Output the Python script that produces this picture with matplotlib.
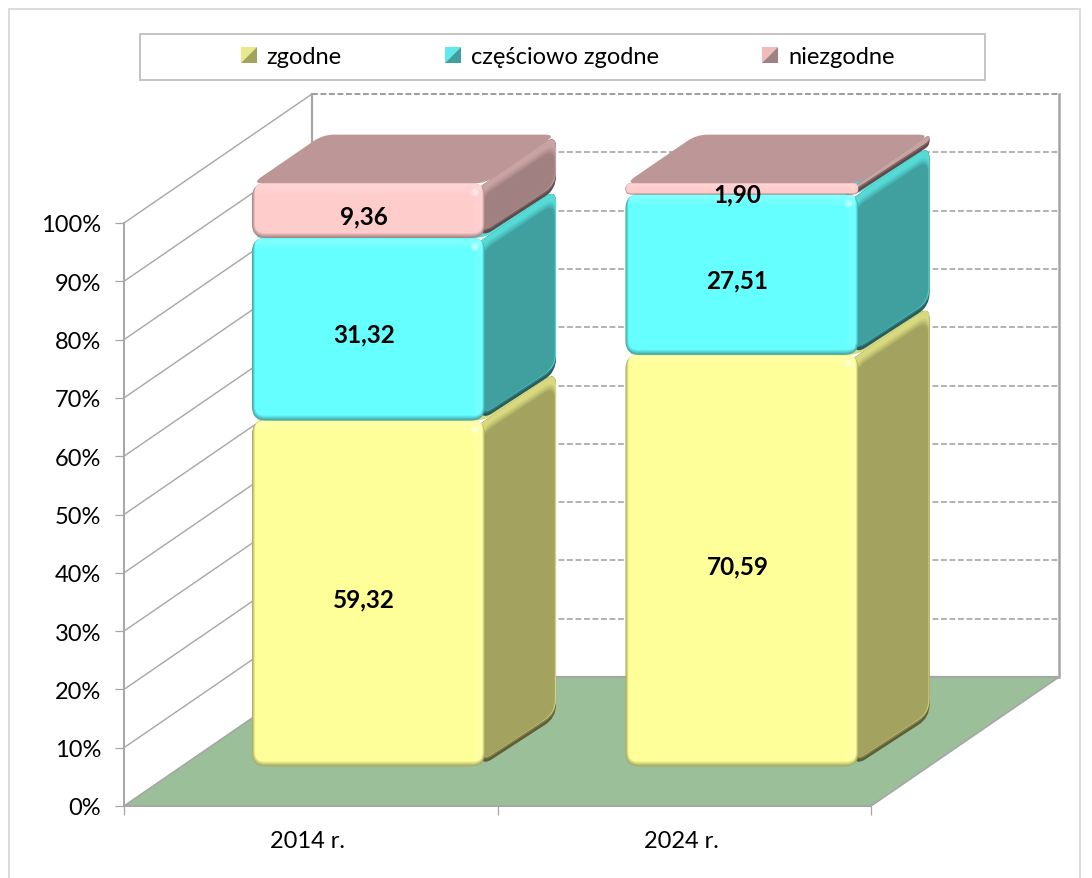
import numpy as np
import matplotlib
matplotlib.use("Agg")
import matplotlib.pyplot as plt
from matplotlib.patches import PathPatch, Polygon, Rectangle, Ellipse
from matplotlib.path import Path
from matplotlib.colors import to_rgb
from matplotlib.legend_handler import HandlerBase
from matplotlib.transforms import Affine2D

categories = ["2014 r.", "2024 r."]
series_names = ["zgodne", "częściowo zgodne", "niezgodne"]
zgodne = [59.32, 70.59]
czesciowo = [31.32, 27.51]
niezgodne = [9.36, 1.90]
y_ticks = [0, 10, 20, 30, 40, 50, 60, 70, 80, 90, 100]

front_cols = ["#FFFF99", "#66FFFF", "#FFCCCC"]
side_cols = ["#A3A35F", "#40A0A0", "#A08080"]
top_cols = ["#D8D87E", "#55DAD6", "#BD9797"]
bevel_cols = ["#D8D87E", "#55DAD6", "#C9A2A2"]
GRID = "#A6A6A6"
FLOOR = "#9BBF99"
FONT = "Lato"

W, H = 1092, 879
fig = plt.figure(figsize=(W / 100, H / 100), dpi=100, facecolor="white")
plt.rcParams["font.family"] = [FONT, "DejaVu Sans"]

PX0, PX1, PY_B, PY_T = 124, 871, 807, 224
ax = fig.add_axes([PX0 / W, 1 - PY_B / H, (PX1 - PX0) / W, (PY_B - PY_T) / H])
ax.set_xlim(0, 2)
ax.set_ylim(0, 100)
ax.patch.set_alpha(0)
SX = (PX1 - PX0) / 2
SY = (PY_B - PY_T) / 100

# oblique depth (pixels for a full floor depth)
DX_PX, DY_PX = 188, 129
DX, DY = DX_PX / SX, DY_PX / SY
D_START, D_END = 0.307, 0.685
BAR_W = 233 / SX


def mix(c1, c2, t):
    a, b = np.array(to_rgb(c1)), np.array(to_rgb(c2))
    return tuple(a * (1 - t) + b * t)


def rpoly(corners, r, **kw):
    """Rounded polygon from data-space corners; r is the corner cut in pixels."""
    p = np.array(corners, float) * [SX, SY]
    n = len(p)
    verts, codes = [], []
    for i in range(n):
        a, b, c = p[i - 1], p[i], p[(i + 1) % n]
        la, lc = np.linalg.norm(a - b), np.linalg.norm(c - b)
        ra = min(r, la * 0.48)
        rc = min(r, lc * 0.48)
        s = b + (a - b) / max(la, 1e-6) * ra
        e = b + (c - b) / max(lc, 1e-6) * rc
        verts += [s, b, e]
        codes += [Path.LINETO if i else Path.MOVETO, Path.CURVE3, Path.CURVE3]
    verts.append(verts[0])
    codes.append(Path.CLOSEPOLY)
    verts = np.array(verts) / [SX, SY]
    patch = PathPatch(Path(verts, codes), lw=0, clip_on=False, **kw)
    ax.add_patch(patch)
    return patch


def wall(x, y, d):
    return x + d * DX, y + d * DY


# ---- walls & floor ----
floor = [wall(0, 0, 0), wall(2, 0, 0), wall(2, 0, 1), wall(0, 0, 1)]
ax.add_patch(Polygon(floor, closed=True, fc=FLOOR, ec=GRID, lw=1.2, clip_on=False, zorder=1))
for v in y_ticks[1:]:
    ax.plot(*zip(wall(0, v, 0), wall(0, v, 1)), color=GRID, lw=1.0, clip_on=False, zorder=1)
    ax.plot(*zip(wall(0, v, 1), wall(2, v, 1)), color=GRID if v < 100 else "#8C8C8C",
            lw=1.2, ls=(0, (3.5, 1.6)), clip_on=False, zorder=1)
ax.plot(*zip(wall(0, 0, 1), wall(0, 100, 1)), color=GRID, lw=1.6, clip_on=False, zorder=1)
ax.plot(*zip(wall(2, 0, 1), wall(2, 100, 1)), color=GRID, lw=1.8, clip_on=False, zorder=1)
ax.plot(*zip(wall(0, 0, 1), wall(2, 0, 1)), color=GRID, lw=1.6, clip_on=False, zorder=1)

# ---- bars ----
z = 3


def segment(xc, y0, y1, k):
    global z
    px = 1 / SX
    py = 1 / SY
    xl, xr = xc - BAR_W / 2 + D_START * DX, xc + BAR_W / 2 + D_START * DX
    b, t = y0 + D_START * DY, y1 + D_START * DY
    ddx, ddy = (D_END - D_START) * DX, (D_END - D_START) * DY
    hpx = (t - b) * SY
    r = min(14, hpx * 0.5)
    rs = min(13, hpx * 0.45)
    # hidden start of the upper side edge, continued under the front face
    lead = 16 * px
    lead_y = lead * ddy / ddx
    upper_l = (xr - lead, t - lead_y)
    # side face
    rpoly([(xr - 4 * px, b), (xr + ddx, b + ddy), (xr + ddx, t + ddy), upper_l], rs,
          fc=mix(side_cols[k], "black", 0.42), zorder=z)
    rpoly([(xr - 4 * px, b + 3 * py), (xr + ddx, b + ddy + 3 * py), (xr + ddx, t + ddy), upper_l], rs,
          fc=mix(side_cols[k], "black", 0.2), zorder=z)
    rpoly([(xr - 4 * px, b + 5 * py), (xr + ddx, b + ddy + 5 * py), (xr + ddx, t + ddy), upper_l], rs,
          fc=bevel_cols[k], zorder=z)
    if hpx > 20:
        steps = [(8, 0.2), (10, 0.45), (12, 0.7), (14, 1.0)]
        for drop, f in steps:
            rpoly([(xr - 4 * px, b + 5 * py), (xr + ddx - (0.5 + f) * px, b + ddy + 5 * py),
                   (xr + ddx - (0.5 + f) * px, t + ddy - drop * py), (xr - 4 * px, t - drop * py)], rs,
                  fc=mix(bevel_cols[k], side_cols[k], f), zorder=z)
    # top face
    rpoly([(xl, t), (xr, t), (xr + ddx, t + ddy), (xl + ddx, t + ddy)], 11,
          fc=top_cols[k], zorder=z)
    # front face: edge shading
    e = mix(front_cols[k], side_cols[k], 0.95)
    rpoly([(xl, b), (xr, b), (xr, t), (xl, t)], r, fc=e, zorder=z)
    bev = min(5.0, hpx * 0.14)
    n = 5
    for i in range(1, n + 1):
        f = i / n
        d = bev * f
        rpoly([(xl + d * 0.6 * px, b + d * py), (xr - d * 0.5 * px, b + d * py),
               (xr - d * 0.5 * px, t), (xl + d * 0.6 * px, t)],
              max(r - d, 2), fc=mix(e, front_cols[k], f), zorder=z)
    # highlights along the top and right edges
    hh = min(10, hpx * 0.3)
    for i in range(1, 5):
        dd = hh * i / 4
        ax.add_patch(Rectangle((xl + 3 * px, t - (1 + dd) * py), BAR_W - 6 * px, dd * py, fc="white",
                               alpha=0.05, lw=0, clip_on=False, zorder=z))
        w = 9 * i / 4
        ax.add_patch(Rectangle((xr - (3 + w) * px, b + 5 * py), w * px, max(hpx - 7, 1) * py, fc="white",
                               alpha=0.03, lw=0, clip_on=False, zorder=z))
    if hpx > 20:
        for sz in (8, 5):
            ax.add_patch(Ellipse((xr - 10 * px, t - 9 * py), sz * px, sz * py, fc="white", alpha=0.3, lw=0,
                                 clip_on=False, zorder=z))
    z += 1


stack = [zgodne, czesciowo, niezgodne]
for c in range(len(categories)):
    base = 0.0
    for k, s in enumerate(stack):
        segment(c + 0.5, base, base + s[c], k)
        base += s[c]
z_labels = z + 1
for c in range(len(categories)):
    base = 0.0
    for s in stack:
        xc = c + 0.5 + D_START * DX
        yc = base + s[c] / 2 + D_START * DY
        ax.annotate(f"{s[c]:.2f}".replace(".", ","), (xc, yc), xytext=(-4.5, -5),
                    textcoords="offset pixels", ha="center", va="center", fontsize=17.5,
                    fontweight="bold", family=FONT, color="black", annotation_clip=False, zorder=z_labels)
        base += s[c]

# ---- axes ----
for sp in ["top", "right"]:
    ax.spines[sp].set_visible(False)
for sp in ["left", "bottom"]:
    ax.spines[sp].set_color(GRID)
    ax.spines[sp].set_linewidth(1.4)
    ax.spines[sp].set_zorder(2)
ax.set_yticks(y_ticks)
ax.set_yticklabels([f"{v}%" for v in y_ticks], fontsize=17, family=FONT, color="black")
ax.set_xticks([0, 1, 2])
ax.set_xticklabels([])
ax.set_xticks([0.5, 1.5], minor=True)
ax.set_xticklabels(categories, minor=True, fontsize=17, family=FONT, color="black")
ax.tick_params(axis="y", length=6.5, width=0.9, color=GRID, pad=10)
ax.tick_params(axis="x", which="major", length=6.5, width=0.9, color=GRID)
ax.tick_params(axis="x", which="minor", length=0, pad=17)
for lab in ax.get_xticklabels(minor=True):
    lab.set_transform(lab.get_transform() + Affine2D().translate(-3, 0))


# ---- chrome: outer border and legend frame ----
def frect(x0, y0, x1, y1, **kw):
    fig.add_artist(Rectangle((x0 / W, 1 - y1 / H), (x1 - x0) / W, (y1 - y0) / H,
                             transform=fig.transFigure, fill=False, **kw))


frect(9, 10, 1080, 900, ec="#D9D9D9", lw=1.3, clip_on=True)
frect(140, 34.5, 985, 80.5, ec="#BFBFBF", lw=1.3)


class HandlerDiag(HandlerBase):
    def __init__(self, light, dark):
        super().__init__()
        self.light, self.dark = light, dark

    def create_artists(self, legend, orig, xd, yd, w, h, fs, trans):
        s = 16 * 72 / 100
        x0, y0 = xd * -1, -yd
        y0 = y0 + (h - s) / 2
        a = Polygon([(x0, y0), (x0, y0 + s), (x0 + s, y0 + s)], closed=True, fc=self.light, lw=0, transform=trans)
        b = Polygon([(x0, y0), (x0 + s, y0), (x0 + s, y0 + s)], closed=True, fc=self.dark, lw=0, transform=trans)
        return [a, b]


proxies = [Rectangle((0, 0), 1, 1) for _ in series_names]
light = ["#E9E98C", "#5FEBEB", "#EDBDBD"]
handler_map = {p: HandlerDiag(l, d) for p, l, d in zip(proxies, light, side_cols)}
leg = fig.legend(proxies, series_names, handler_map=handler_map, ncol=3, frameon=False,
                 loc="center", bbox_to_anchor=(567.5 / W, 1 - 57.5 / H),
                 prop={"family": FONT, "size": 17}, handlelength=0.68, handleheight=0.68,
                 handletextpad=0.4, columnspacing=4.4, borderpad=0, labelcolor="black")

fig.savefig("out.png", dpi=100)
